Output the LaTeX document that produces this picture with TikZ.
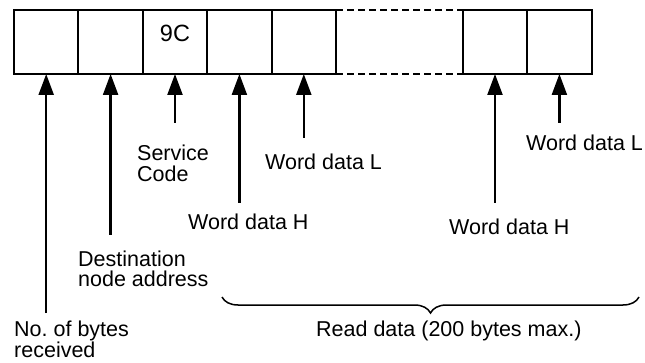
\documentclass[tikz,border=0pt]{standalone}
\usepackage{fontspec}
\setmainfont{Liberation Sans}
\usetikzlibrary{arrows.meta,decorations.pathreplacing}

\begin{document}
\begin{tikzpicture}[x=1pt,y=-1pt,>={Triangle[length=21pt,width=15pt]},
  cell/.style={draw,line width=2pt,minimum width=64.4pt,minimum height=64pt,inner sep=0pt,outer sep=0pt},
  lbl/.style={anchor=base west,align=left,inner sep=0pt,font=\fontsize{21.5}{20.5}\selectfont},
  ptr/.style={->,line width=2.3pt}]
  \useasboundingbox (0,0) rectangle (645,363);
  % response frame
  \foreach \i/\x in {1/46.2,2/110.6,3/175,4/239.4,5/303.8,6/495,7/559.4}
    \node[cell] (b\i) at (\x,42) {};
  \draw[line width=2pt,dash pattern=on 7pt off 4pt]
    (b5.north east) -- (b6.north west) (b5.south east) -- (b6.south west);
  \node[anchor=base,inner sep=0pt,font=\fontsize{23.5}{23.5}\selectfont] (code) at (175,42) {9C};
  % labels (base = last line)
  \node[lbl] (nob) at (14,357) {No.\ of bytes\\received};
  \node[lbl] (dst) at (78,287) {Destination\\node address};
  \node[lbl] (svc) at (137,181.5) {Service\\Code};
  \node[lbl] (wdh1) at (188,230) {Word data H};
  \node[lbl] (wdl1) at (265,170) {Word data L};
  \node[lbl] (wdh2) at (449,235) {Word data H};
  \node[lbl] (wdl2) at (526,150.7) {Word data L};
  \node[lbl] (rd) at (316,336) {Read data (200 bytes max.)};
  % pointers
  \coordinate (t1) at (46.2,313);
  \coordinate (t2) at (110.6,235);
  \coordinate (t3) at (175,123);
  \coordinate (t4) at (239.4,203);
  \coordinate (t5) at (303.8,138);
  \coordinate (t6) at (495,203);
  \coordinate (t7) at (559.4,123);
  \foreach \i in {1,...,7} {\draw[ptr] (t\i) -- (b\i.south);}
  % read data span
  \draw[line width=1.5pt,decorate,decoration={brace,mirror,amplitude=16pt}]
    (222,297) -- (639,297);
\end{tikzpicture}
\end{document}
